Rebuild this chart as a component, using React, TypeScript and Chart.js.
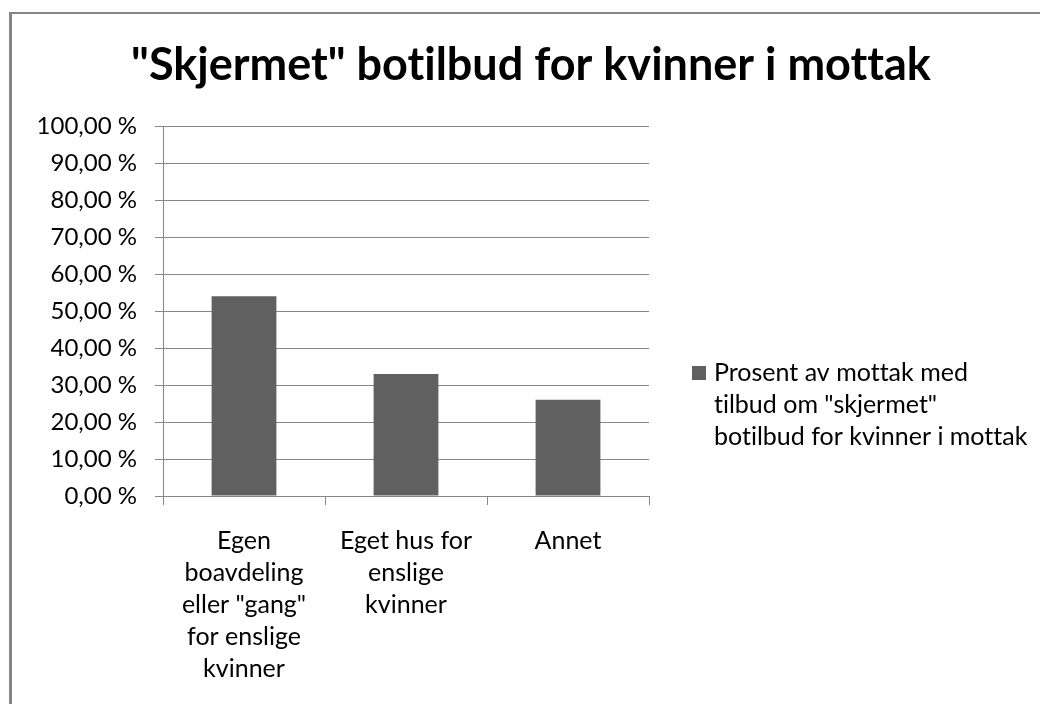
import React, { useEffect, useRef } from "react";
import { Chart, registerables } from "chart.js";

Chart.register(...registerables);

const titleText = '"Skjermet" botilbud for kvinner i mottak';
const categories: string[][] = [
  ["Egen", "boavdeling", 'eller "gang"', "for enslige", "kvinner"],
  ["Eget hus for", "enslige", "kvinner"],
  ["Annet"],
];
const seriesValues: number[] = [54, 33, 26];
const seriesLabelLines: string[] = [
  "Prosent av mottak med",
  'tilbud om "skjermet"',
  "botilbud for kvinner i mottak",
];
const yTickLabels: string[] = [
  "0,00 %", "10,00 %", "20,00 %", "30,00 %", "40,00 %", "50,00 %",
  "60,00 %", "70,00 %", "80,00 %", "90,00 %", "100,00 %",
];

const FONT = "Lato";
const GRID = "#868686";
const BAR = "#606060";

const decorPlugin = {
  id: "decor",
  afterDraw(chart: any) {
    const ctx = chart.ctx as any;
    ctx.save();
    try {
      ctx.textRendering = "optimizeSpeed";
    } catch (e) {}
    // title
    ctx.fillStyle = "#000";
    ctx.font = `bold 45px ${FONT}`;
    ctx.textAlign = "center";
    ctx.textBaseline = "alphabetic";
    ctx.fillText(titleText, 519, 66);
    // legend
    const ds = chart.data.datasets[0];
    ctx.fillStyle = ds.backgroundColor;
    ctx.fillRect(680, 352, 14, 14);
    ctx.fillStyle = "#000";
    ctx.font = `25px ${FONT}`;
    ctx.textAlign = "left";
    ctx.textBaseline = "middle";
    seriesLabelLines.forEach((line, i) => {
      ctx.fillText(line, 702, 359 + i * 32);
    });
    ctx.restore();
  },
};

export default function App() {
  const ref = useRef<HTMLCanvasElement | null>(null);
  useEffect(() => {
    if (!ref.current) return;
    const chart = new Chart(ref.current, {
      type: "bar",
      data: {
        labels: categories,
        datasets: [
          {
            label: seriesLabelLines.join(" "),
            data: seriesValues,
            backgroundColor: BAR,
            barPercentage: 0.4,
            categoryPercentage: 1.0,
          },
        ],
      },
      options: {
        animation: false,
        responsive: true,
        maintainAspectRatio: false,
        layout: { padding: { top: 112, right: 391, left: 0, bottom: 0 } },
        plugins: {
          legend: { display: false },
          title: { display: false },
          tooltip: { enabled: false },
        },
        scales: {
          x: {
            afterFit: (s: any) => {
              s.height = 208;
            },
            grid: {
              offset: true,
              drawOnChartArea: false,
              drawTicks: true,
              tickLength: 9,
              color: GRID,
            },
            border: { display: true, color: GRID },
            ticks: {
              color: "#000",
              padding: 20,
              maxRotation: 0,
              autoSkip: false,
              font: { family: FONT, size: 25, lineHeight: 32 / 25 },
            },
          },
          y: {
            min: 0,
            max: 100,
            afterFit: (s: any) => {
              s.width = 151;
            },
            grid: { color: GRID, tickLength: 8, drawTicks: true },
            border: { display: true, color: GRID },
            ticks: {
              stepSize: 10,
              color: "#000",
              padding: 18,
              font: { family: FONT, size: 24 },
              callback: (_v: any, i: number) => yTickLabels[i],
            },
          },
        },
      },
      plugins: [decorPlugin],
    });
    return () => chart.destroy();
  }, []);

  return (
    <div
      style={{
        position: "fixed",
        left: 9,
        top: 12,
        width: 1031,
        height: 692,
        boxSizing: "border-box",
        borderLeft: `3px solid ${GRID}`,
        borderTop: `2px solid ${GRID}`,
        background: "#fff",
      }}
    >
      <div style={{ position: "relative", width: 1028, height: 690 }}>
        <canvas ref={ref} />
      </div>
    </div>
  );
}
